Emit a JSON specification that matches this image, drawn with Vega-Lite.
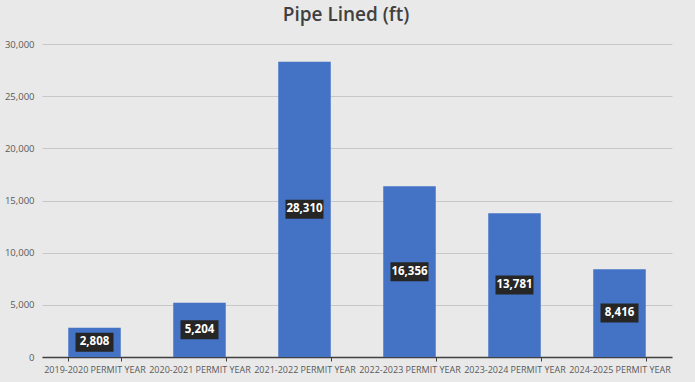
{
  "$schema": "https://vega.github.io/schema/vega-lite/v6.json",
  "autosize": {"type": "none"},
  "width": 630,
  "height": 313,
  "padding": {"left": 42, "top": 44, "right": 23, "bottom": 25},
  "background": "#e9e9e9",
  "title": {
    "text": "Pipe Lined (ft)",
    "fontSize": 19,
    "font": "Open Sans",
    "fontWeight": 600,
    "color": "#404040",
    "anchor": "middle",
    "dx": -11,
    "offset": 14
  },
  "data": {
    "values": [
      {"year": "2019-2020 PERMIT YEAR", "value": 2808},
      {"year": "2020-2021 PERMIT YEAR", "value": 5204},
      {"year": "2021-2022 PERMIT YEAR", "value": 28310},
      {"year": "2022-2023 PERMIT YEAR", "value": 16356},
      {"year": "2023-2024 PERMIT YEAR", "value": 13781},
      {"year": "2024-2025 PERMIT YEAR", "value": 8416}
    ]
  },
  "encoding": {
    "x": {
      "field": "year",
      "type": "nominal",
      "sort": null,
      "scale": {"paddingInner": 0.5, "paddingOuter": 0.25},
      "axis": {
        "title": null,
        "labelAngle": 0,
        "labelFont": "Open Sans",
        "labelFontSize": 9,
        "labelColor": "#595959",
        "labelPadding": 4,
        "labelOverlap": false,
        "domainColor": "#404040",
        "domainWidth": 1.5,
        "tickColor": "#404040",
        "tickSize": 4,
        "tickBand": "extent",
        "grid": false
      }
    }
  },
  "layer": [
    {
      "mark": {"type": "bar", "color": "#4472C4"},
      "encoding": {
        "y": {
          "field": "value",
          "type": "quantitative",
          "scale": {"domain": [0, 30000], "nice": false},
          "axis": {
            "title": null,
            "values": [0, 5000, 10000, 15000, 20000, 25000, 30000],
            "format": ",d",
            "labelOverlap": false,
            "labelFont": "Open Sans",
            "labelFontSize": 9.5,
            "labelColor": "#595959",
            "labelPadding": 8,
            "domain": false,
            "ticks": false,
            "gridColor": "#c8c8c8",
            "gridWidth": 1
          }
        }
      }
    },
    {
      "mark": {"type": "point", "shape": "M-1,-0.5H1V0.5H-1Z", "size": 1444, "filled": true, "color": "#262626", "opacity": 1, "strokeWidth": 0},
      "encoding": {
        "y": {"field": "value", "type": "quantitative", "scale": {"domain": [0, 60000], "nice": false}, "axis": null}
      }
    },
    {
      "mark": {"type": "text", "color": "white", "font": "Open Sans", "fontWeight": "bold", "fontSize": 11.5, "baseline": "middle", "align": "center"},
      "encoding": {
        "y": {"field": "value", "type": "quantitative", "scale": {"domain": [0, 60000], "nice": false}, "axis": null},
        "text": {"field": "value", "type": "quantitative", "format": ","}
      }
    }
  ],
  "resolve": {"scale": {"y": "independent"}},
  "config": {"view": {"stroke": null}}
}
